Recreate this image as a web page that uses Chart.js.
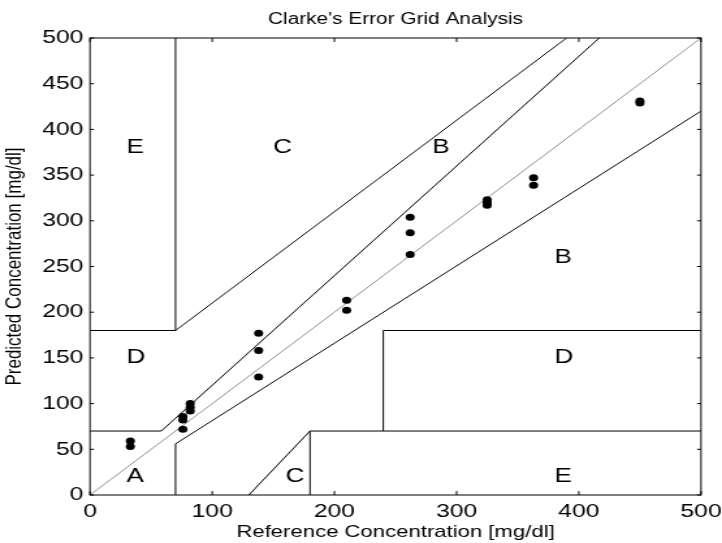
<!DOCTYPE html>
<html>
<head>
<meta charset="utf-8">
<script src="https://cdn.jsdelivr.net/npm/chart.js@4.4.0/dist/chart.umd.min.js"></script>
<style>
  html, body { margin: 0; padding: 0; background: #fff; }
</style>
</head>
<body>
<!-- drawn at 555 px wide and shown at 722, same stretch as the old figure export -->
<canvas id="errorGrid" width="555" height="543" style="width:722px;height:543px;display:block"></canvas>
<script>
const SX = 722 / 555;
const FONT = "'Liberation Sans', Arial, Helvetica, sans-serif";

// paired readings: reference vs predicted glucose (mg/dl)
const refConc  = [33, 33, 76, 76, 76, 82, 82, 82, 138, 138, 138, 210, 210, 262, 262, 262, 325, 325, 325, 363, 363, 450, 450];
const predConc = [59, 53, 86, 82, 72, 100, 96, 92, 177, 158, 129, 213, 202, 304, 287, 263, 323, 320, 317, 347, 339, 431, 429];

const xTicks = [0, 100, 200, 300, 400, 500];
const yTicks = [0, 50, 100, 150, 200, 250, 300, 350, 400, 450, 500];

// zone boundaries as [reference, predicted] vertices
const diagonal = [[0, 0], [500, 500]];
const upperA = [[0, 70], [58.3, 70], [416.7, 500]];
const lowerA = [[70, 0], [70, 56], [500, 420]];
const upperC = [[0, 180], [70, 180], [390, 500]];
const edgeE  = [[70, 180], [70, 500]];
const lowerC = [[130, 0], [180, 70]];
const lowerE = [[180, 0], [180, 70], [500, 70]];
const lowerD = [[240, 70], [240, 180], [500, 180]];

const zoneNames = ['A', 'D', 'E', 'C', 'B', 'C', 'E', 'D', 'B'];
const zoneX     = [30, 30, 30, 150, 280, 160, 380, 380, 380];
const zoneY     = [20, 150, 380, 380, 380, 20, 20, 150, 260];

function boundary(line, color) {
    return {
        data: line.map(p => ({ x: p[0], y: p[1] })),
        showLine: true,
        borderColor: color,
        borderWidth: 1,
        pointRadius: 0,
        fill: false
    };
}

function fixBox(size) {
    return function(scale) {
        if (scale.isHorizontal()) scale.height = size;
        else scale.width = size;
        scale.paddingLeft = scale.paddingRight = scale.paddingTop = scale.paddingBottom = 0;
    };
}

// frame with inward ticks, zone letters and the title
const gridFrame = {
    id: 'gridFrame',
    afterDatasetsDraw(chart) {
        const ctx = chart.ctx;
        const a = chart.chartArea;
        const x = chart.scales.x, y = chart.scales.y;
        const tick = 4;
        ctx.save();
        ctx.strokeStyle = '#000';
        ctx.lineWidth = 1;
        ctx.strokeRect(a.left, a.top, a.right - a.left, a.bottom - a.top);
        ctx.beginPath();
        xTicks.forEach(v => {
            const px = x.getPixelForValue(v);
            ctx.moveTo(px, a.bottom); ctx.lineTo(px, a.bottom - tick);
            ctx.moveTo(px, a.top); ctx.lineTo(px, a.top + tick);
        });
        yTicks.forEach(v => {
            const py = y.getPixelForValue(v);
            ctx.moveTo(a.left, py); ctx.lineTo(a.left + tick / SX, py);
            ctx.moveTo(a.right, py); ctx.lineTo(a.right - tick / SX, py);
        });
        ctx.stroke();

        ctx.fillStyle = '#000';
        ctx.font = '20px ' + FONT;
        ctx.textAlign = 'left';
        ctx.textBaseline = 'middle';
        zoneNames.forEach((n, i) => {
            ctx.fillText(n, x.getPixelForValue(zoneX[i]), y.getPixelForValue(zoneY[i]));
        });

        ctx.font = '16px ' + FONT;
        ctx.textAlign = 'center';
        ctx.fillText("Clarke's Error Grid Analysis", (a.left + a.right) / 2, 20);
        ctx.restore();
    }
};

const tickFont = { family: FONT, size: 19 };
const titleFont = { family: FONT, size: 17 };

new Chart(document.getElementById('errorGrid'), {
    type: 'scatter',
    data: {
        datasets: [
            {
                data: refConc.map((v, i) => ({ x: v, y: predConc[i] })),
                pointRadius: 3.5,
                pointBackgroundColor: '#000',
                pointBorderWidth: 0
            },
            boundary(diagonal, '#8c8c8c'),
            boundary(upperA, '#000'),
            boundary(lowerA, '#000'),
            boundary(upperC, '#000'),
            boundary(edgeE, '#000'),
            boundary(lowerC, '#000'),
            boundary(lowerE, '#000'),
            boundary(lowerD, '#000')
        ]
    },
    options: {
        responsive: false,
        animation: false,
        events: [],
        layout: { padding: { left: 0, right: 21 / SX, top: 38, bottom: 0 } },
        plugins: {
            legend: { display: false },
            tooltip: { enabled: false },
            title: { display: false }
        },
        scales: {
            x: {
                type: 'linear',
                min: 0,
                max: 500,
                afterBuildTicks: s => { s.ticks = xTicks.map(v => ({ value: v })); },
                afterFit: fixBox(48),
                grid: { display: false, drawTicks: false },
                border: { display: false },
                ticks: { color: '#000', font: tickFont, padding: 5, maxRotation: 0, autoSkip: false },
                title: { display: true, text: 'Reference Concentration [mg/dl]', color: '#000', font: titleFont, padding: 0 }
            },
            y: {
                type: 'linear',
                min: 0,
                max: 500,
                afterBuildTicks: s => { s.ticks = yTicks.map(v => ({ value: v })); },
                afterFit: fixBox(90 / SX),
                grid: { display: false, drawTicks: false },
                border: { display: false },
                ticks: { color: '#000', font: tickFont, padding: 5, autoSkip: false },
                title: { display: true, text: 'Predicted Concentration [mg/dl]', color: '#000', font: titleFont, padding: { top: 1.3, bottom: 0 } }
            }
        }
    },
    plugins: [gridFrame]
});
</script>
</body>
</html>
